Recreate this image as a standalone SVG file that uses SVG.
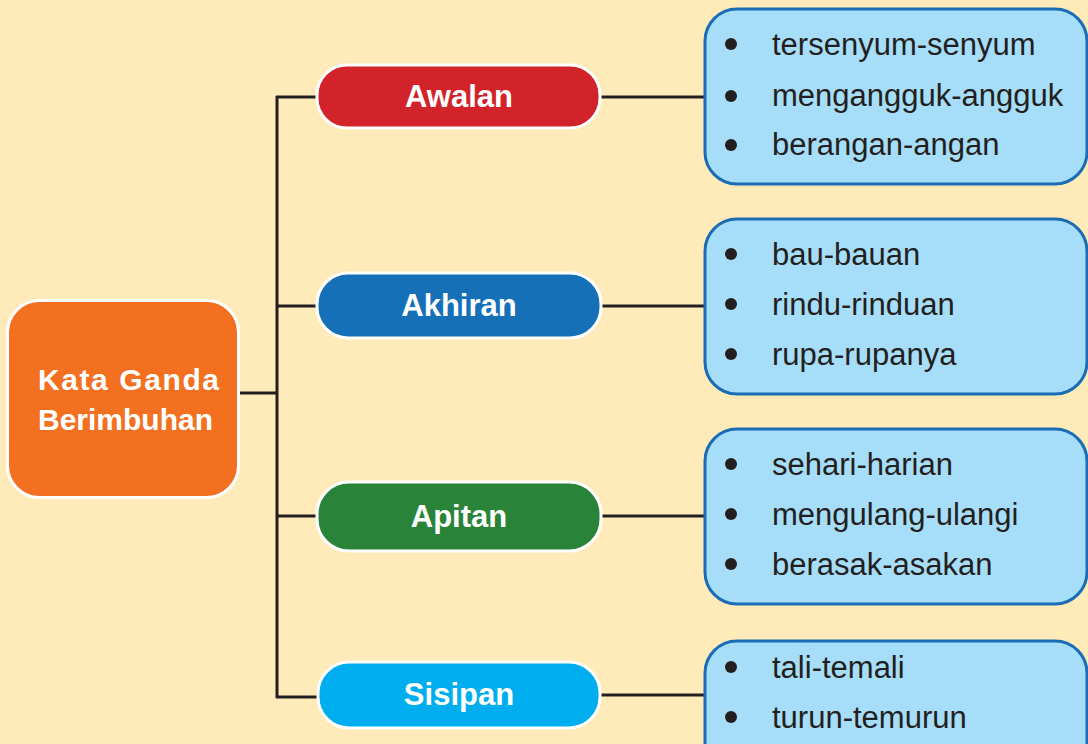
<svg xmlns="http://www.w3.org/2000/svg" width="1088" height="744" viewBox="0 0 1088 744">
  <style>
    .bg { fill: #feebb9; }
    .line { stroke: #231f20; stroke-width: 3; fill: none; }
    .root { fill: #f37021; stroke: #ffffff; stroke-width: 3; }
    .cat { stroke: #ffffff; stroke-width: 3; }
    .cat-text { font-family: "Liberation Sans", Arial, sans-serif; font-weight: bold; font-size: 31px; fill: #ffffff; text-anchor: middle; }
    .root-text { font-family: "Liberation Sans", Arial, sans-serif; font-weight: bold; font-size: 30px; fill: #ffffff; }
    .list { fill: #a6ddf8; stroke: #1a6db5; stroke-width: 3; }
    .item { font-family: "Liberation Sans", Arial, sans-serif; font-size: 31px; fill: #231f20; }
    .dot { fill: #231f20; }
  </style>
  <rect class="bg" x="0" y="0" width="1088" height="744"/>

  <g id="connectors">
    <line class="line" x1="239" y1="393" x2="277" y2="393"/>
    <line class="line" x1="277" y1="96" x2="277" y2="698"/>
    <line class="line" x1="276" y1="97" x2="318" y2="97"/>
    <line class="line" x1="276" y1="306" x2="318" y2="306"/>
    <line class="line" x1="276" y1="516" x2="318" y2="516"/>
    <line class="line" x1="276" y1="697" x2="318" y2="697"/>
    <line class="line" x1="600" y1="97" x2="705" y2="97"/>
    <line class="line" x1="600" y1="306" x2="705" y2="306"/>
    <line class="line" x1="600" y1="516" x2="705" y2="516"/>
    <line class="line" x1="600" y1="695" x2="705" y2="695"/>
  </g>

  <g id="root">
    <rect class="root" x="7.5" y="300.5" width="231" height="197" rx="32"/>
    <text class="root-text" x="38" y="390" textLength="181" lengthAdjust="spacing">Kata Ganda</text>
    <text class="root-text" x="38" y="430" textLength="175" lengthAdjust="spacing">Berimbuhan</text>
  </g>

  <g id="awalan">
    <rect class="cat" x="317" y="65" width="283" height="63" rx="30" fill="#d2232a"/>
    <text class="cat-text" x="459" y="107">Awalan</text>
  </g>
  <g id="akhiran">
    <rect class="cat" x="317" y="273" width="284" height="65" rx="31" fill="#1570b8"/>
    <text class="cat-text" x="459" y="316">Akhiran</text>
  </g>
  <g id="apitan">
    <rect class="cat" x="317" y="482" width="284" height="69" rx="32" fill="#29843a"/>
    <text class="cat-text" x="459" y="527">Apitan</text>
  </g>
  <g id="sisipan">
    <rect class="cat" x="318" y="662" width="282" height="66" rx="31" fill="#00aeef"/>
    <text class="cat-text" x="459" y="705">Sisipan</text>
  </g>

  <g id="list-awalan">
    <rect class="list" x="705" y="9" width="382" height="175" rx="32"/>
    <circle class="dot" cx="731" cy="44" r="6"/>
    <circle class="dot" cx="731" cy="96" r="6"/>
    <circle class="dot" cx="731" cy="145" r="6"/>
    <text class="item" x="772" y="55">tersenyum-senyum</text>
    <text class="item" x="772" y="106">mengangguk-angguk</text>
    <text class="item" x="772" y="155">berangan-angan</text>
  </g>
  <g id="list-akhiran">
    <rect class="list" x="705" y="219" width="382" height="175" rx="32"/>
    <circle class="dot" cx="731" cy="254" r="6"/>
    <circle class="dot" cx="731" cy="304" r="6"/>
    <circle class="dot" cx="731" cy="354" r="6"/>
    <text class="item" x="772" y="265">bau-bauan</text>
    <text class="item" x="772" y="315">rindu-rinduan</text>
    <text class="item" x="772" y="365">rupa-rupanya</text>
  </g>
  <g id="list-apitan">
    <rect class="list" x="705" y="429" width="382" height="175" rx="32"/>
    <circle class="dot" cx="731" cy="464" r="6"/>
    <circle class="dot" cx="731" cy="514" r="6"/>
    <circle class="dot" cx="731" cy="564" r="6"/>
    <text class="item" x="772" y="475">sehari-harian</text>
    <text class="item" x="772" y="525">mengulang-ulangi</text>
    <text class="item" x="772" y="575">berasak-asakan</text>
  </g>
  <g id="list-sisipan">
    <rect class="list" x="705" y="641" width="382" height="175" rx="32"/>
    <circle class="dot" cx="731" cy="667" r="6"/>
    <circle class="dot" cx="731" cy="717" r="6"/>
    <text class="item" x="772" y="678">tali-temali</text>
    <text class="item" x="772" y="728">turun-temurun</text>
  </g>
</svg>
